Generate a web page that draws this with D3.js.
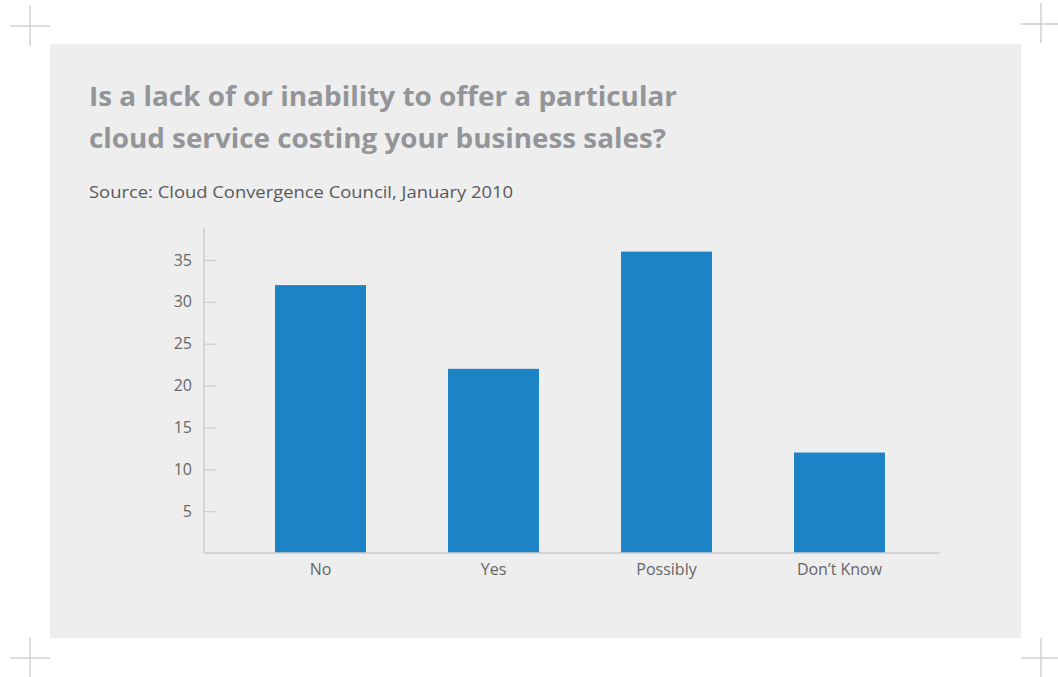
<!DOCTYPE html>
<html><head><meta charset="utf-8">
<script src="https://cdn.jsdelivr.net/npm/d3@7"></script>
<style>html,body{margin:0;padding:0;background:#fff;}svg{display:block;}</style>
</head><body>
<svg id="c" width="1058" height="677"></svg>
<script>
const categories = ["No", "Yes", "Possibly", "Don\u2019t Know"];
const values = [32, 22, 36, 12];
const yTicks = [5, 10, 15, 20, 25, 30, 35];
const titleLines = ["Is a lack of or inability to offer a particular", "cloud service costing your business sales?"];
const titleWidths = [588, 577];
const subtitle = "Source: Cloud Convergence Council, January 2010";

const svg = d3.select("#c");
const font = "'Open Sans', Roboto, sans-serif";

// crop marks
const marks = [
  {x:30, y:26, y0:6, y1:46, x0:10, x1:50},
  {x:1041, y:24, y0:3, y1:43, x0:1021, x1:1058},
  {x:30, y:658, y0:638, y1:677, x0:10, x1:50},
  {x:1041, y:658, y0:638, y1:677, x0:1021, x1:1058}
];
marks.forEach(m => {
  svg.append("line").attr("x1", m.x).attr("x2", m.x).attr("y1", m.y0).attr("y2", m.y1).attr("stroke", "#d0d0d0").attr("stroke-width", 1.5);
  svg.append("line").attr("x1", m.x0).attr("x2", m.x1).attr("y1", m.y).attr("y2", m.y).attr("stroke", "#d0d0d0").attr("stroke-width", 1.5);
});

svg.append("rect").attr("x", 50).attr("y", 44).attr("width", 971).attr("height", 594).attr("fill", "#eeeeee");

svg.selectAll("text.title").data(titleLines).enter().append("text")
  .attr("class", "title")
  .attr("x", 89).attr("y", (d, i) => 106 + i * 42)
  .attr("font-family", font).attr("font-weight", "bold").attr("font-size", 26)
  .attr("textLength", (d, i) => titleWidths[i]).attr("lengthAdjust", "spacingAndGlyphs")
  .attr("fill", "#939598").text(d => d);

svg.append("text").attr("x", 89).attr("y", 198)
  .attr("font-family", font).attr("font-size", 17).attr("fill", "#58595b")
  .attr("textLength", 424).attr("lengthAdjust", "spacingAndGlyphs").text(subtitle);

const y = d3.scaleLinear().domain([0, 35]).range([553, 260]);
const x = d3.scaleBand().domain(categories).range([275, 885]).paddingInner(0.474).paddingOuter(0);

svg.selectAll("rect.bar").data(values).enter().append("rect")
  .attr("class", "bar")
  .attr("x", (d, i) => x(categories[i]))
  .attr("width", x.bandwidth())
  .attr("y", d => y(d))
  .attr("height", d => y(0) - y(d))
  .attr("fill", "#1c84c6");

// y axis
const yAxis = svg.append("g").attr("transform", "translate(204,0)")
  .call(d3.axisRight(y).tickValues(yTicks).tickSize(12).tickFormat(d3.format("d")));
yAxis.select(".domain").remove();
yAxis.selectAll(".tick line").attr("stroke", "#cccccc").attr("stroke-width", 1.2);
yAxis.selectAll(".tick text").attr("x", -12).attr("text-anchor", "end")
  .attr("font-family", font).attr("font-size", 16).attr("fill", "#666666");
svg.append("line").attr("x1", 204).attr("x2", 204).attr("y1", 228).attr("y2", 553).attr("stroke", "#cccccc").attr("stroke-width", 1.5);

// x axis
svg.append("line").attr("x1", 204).attr("x2", 940).attr("y1", 553).attr("y2", 553).attr("stroke", "#cccccc").attr("stroke-width", 1.5);
const xAxis = svg.append("g").attr("transform", "translate(0,553)")
  .call(d3.axisBottom(x).tickSize(0).tickPadding(11));
xAxis.select(".domain").remove();
xAxis.selectAll(".tick text").attr("font-family", font).attr("font-size", 16).attr("fill", "#666666");
</script>
</body></html>
